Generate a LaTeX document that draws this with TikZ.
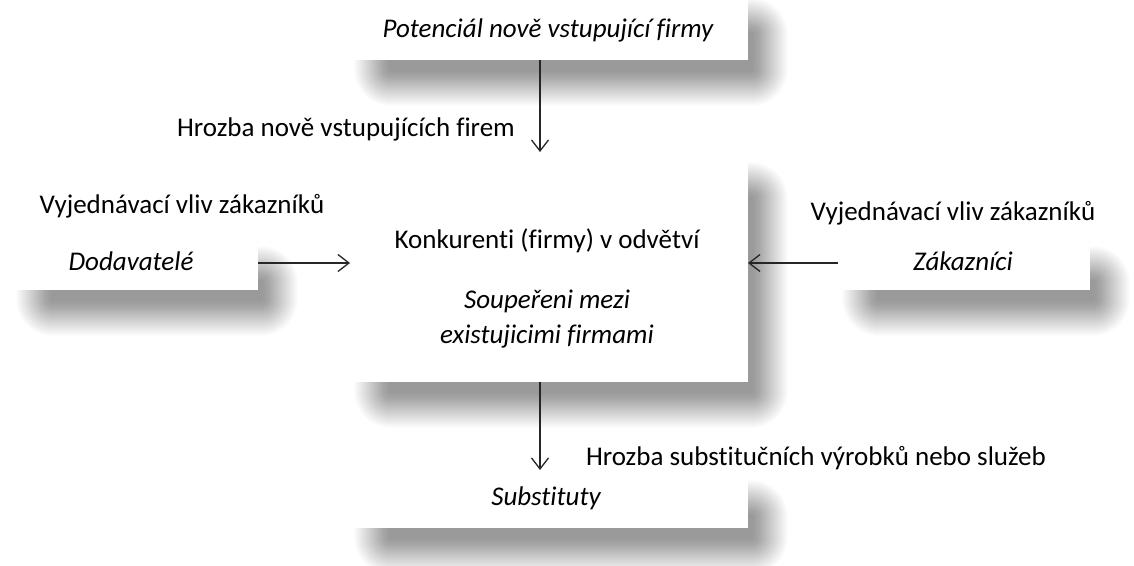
\documentclass[tikz,border=0pt]{standalone}
\usepackage{fontspec}
\setmainfont[Ligatures=NoCommon]{Carlito}
\usetikzlibrary{arrows.meta,calc}
\pgfdeclarelayer{background}
\pgfsetlayers{background,main}
\begin{document}
\begin{tikzpicture}[x=1pt,y=-1pt,
  box/.style={fill=white, inner sep=0pt, outer sep=0pt},
  lblbox/.style={fill=white, inner sep=0pt, outer sep=0pt},
  txt/.style={inner sep=0pt, outer sep=0pt, anchor=base, font=\fontsize{27}{32}\selectfont},
  itxt/.style={txt, font=\fontsize{27}{32}\selectfont\itshape},
  arr/.style={-{Straight Barb[length=11pt,width=17pt]}, line width=1.3pt, black!85},
  shadowlayer/.style={fill=black, fill opacity=0.0115}]
\useasboundingbox (0,0) rectangle (1134,565);
% boxes with shadows
\node[box, minimum width=398pt, minimum height=72pt] (top) at (549,24) {};
\node[box, minimum width=398pt, minimum height=230pt] (central) at (549,267) {};
\node[box, minimum width=246pt, minimum height=54pt] (dod) at (135,263) {};
\node[box, minimum width=252pt, minimum height=54pt] (zak) at (964,263) {};
\node[box, minimum width=398pt, minimum height=58pt] (sub) at (549,499) {};
% label boxes
\node[lblbox, minimum width=375pt, minimum height=43pt] (lbltop) at (338,129) {};
\node[lblbox, minimum width=315pt, minimum height=45pt] (lblleft) at (182,205) {};
\node[lblbox, minimum width=300pt, minimum height=45pt] (lblright) at (943,211) {};
\node[lblbox, minimum width=500pt, minimum height=45pt] (lblbot) at (820,456) {};
% texts
\node[itxt] (t1) at (548,37) {Potenciál nově vstupující firmy};
\node[txt] (t2) at (346,136) {Hrozba nově vstupujících firem};
\node[txt] (t3) at (182,213) {Vyjednávací vliv zákazníků};
\node[itxt] (t4) at (131,270) {Dodavatelé};
\node[txt] (t5) at (547,248) {Konkurenti (firmy) v odvětví};
\node[itxt] (t6) at (547,308) {Soupeřeni mezi};
\node[itxt] (t7) at (547,343) {existujicimi firmami};
\node[txt] (t8) at (953,220) {Vyjednávací vliv zákazníků};
\node[itxt] (t9) at (963,270) {Zákazníci};
\node[txt] (t10) at (816,465) {Hrozba substitučních výrobků nebo služeb};
\node[itxt] (t11) at (546,505) {Substituty};
% arrows
\draw[arr] ([xshift=-9pt]top.south) -- ([xshift=-9pt]central.north);
\draw[arr] (dod.east) -- (dod.east -| central.west);
\draw[arr] (zak.west) -- (zak.west -| central.east);
\draw[arr] ([xshift=-9pt]central.south) -- ([xshift=-9pt]sub.north);
% background and shadows
\begin{pgfonlayer}{background}
\fill[white] (0,0) rectangle (1134,565);
\foreach \n in {top,central,dod,zak,sub}{
  \foreach \i [evaluate=\i as \rr using 37-\i] in {0,...,35}{
    \fill[shadowlayer, rounded corners=\rr pt] ($(\n.north west)+(4+\i,10+\i)$) rectangle ($(\n.south east)+(40-\i,46-\i)$);
  }
}
\end{pgfonlayer}
\end{tikzpicture}
\end{document}
